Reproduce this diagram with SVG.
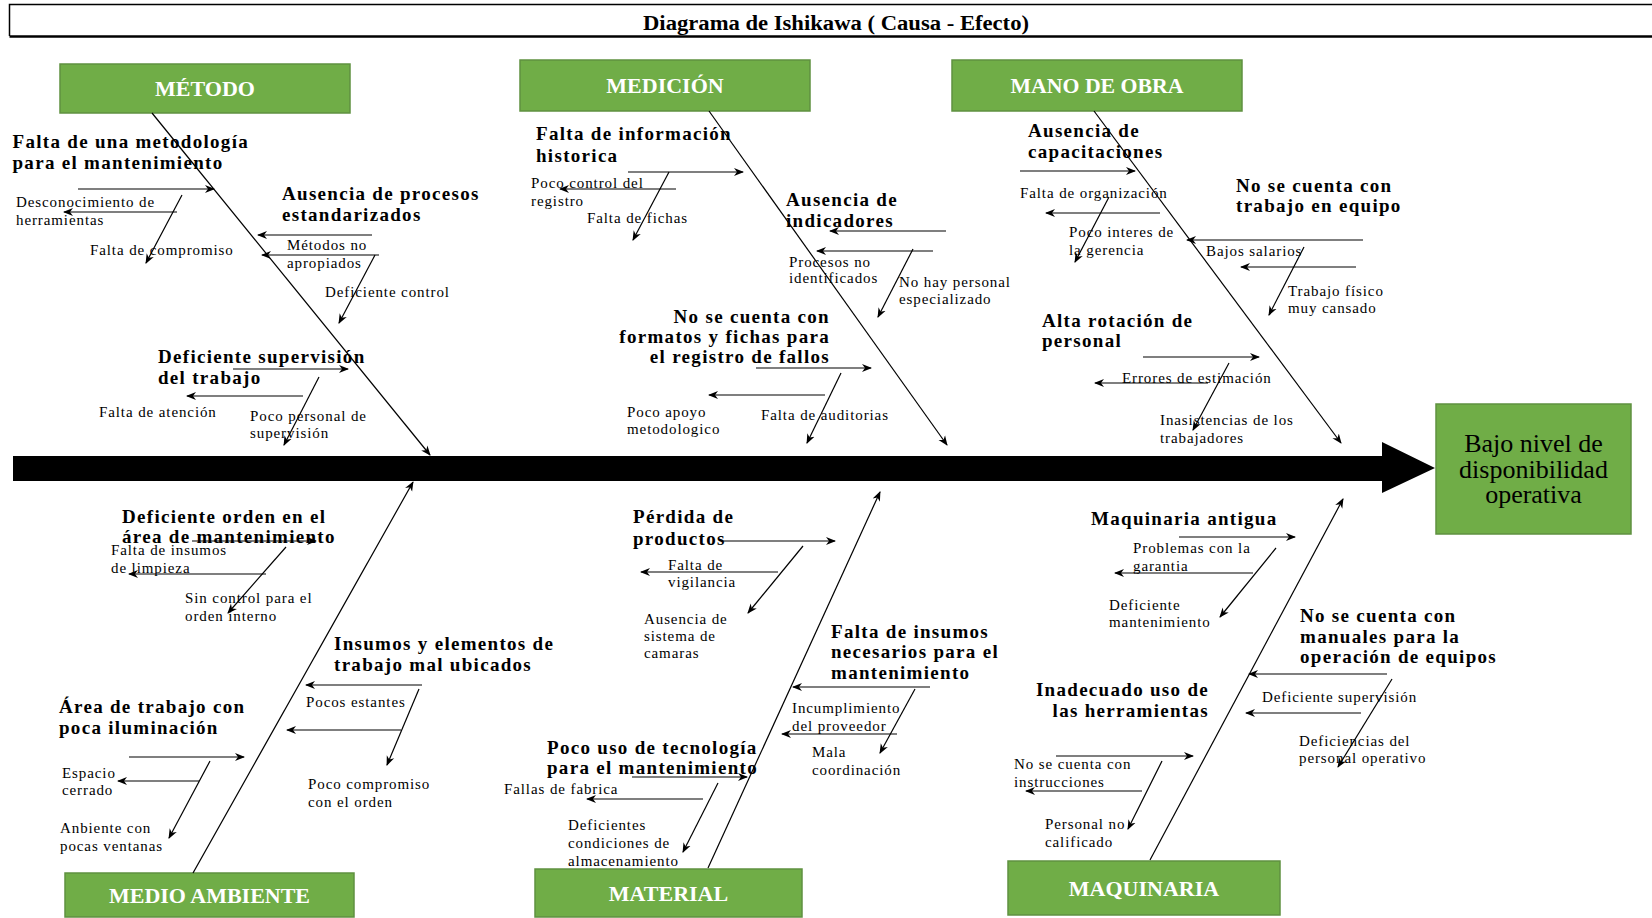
<svg xmlns="http://www.w3.org/2000/svg" width="1652" height="918" viewBox="0 0 1652 918">
<style>
text{font-family:"Liberation Serif","Times New Roman",serif;fill:#000}
.c{font-size:19px;font-weight:bold;letter-spacing:1.3px}
.s{font-size:15px;letter-spacing:0.9px}
.cat rect{fill:#70AD47;stroke:#5F9140;stroke-width:1.5}
.cat text{font-size:22px;font-weight:bold;fill:#fff;text-anchor:middle}
.ef{font-size:26px;text-anchor:middle}
.ln{stroke:#000;stroke-width:1.2;fill:none;marker-end:url(#ah)}
.bone{stroke:#000;stroke-width:1.2;fill:none;marker-end:url(#ah)}
</style>
<defs>
<marker id="ah" viewBox="0 0 10 10" refX="9" refY="5" markerWidth="10" markerHeight="10" markerUnits="userSpaceOnUse" orient="auto">
<path d="M0,1 L10,5 L0,9 L3,5 z" fill="#000"/>
</marker>
</defs>
<rect width="1652" height="918" fill="#fff"/>
<g id="title">
<path d="M1660,4.5 H9.5 V36" fill="none" stroke="#000" stroke-width="1.5"/>
<path d="M9.5,36.5 H1660" fill="none" stroke="#000" stroke-width="2.5"/>
<text x="643" y="30" font-size="20" font-weight="bold" textLength="386" lengthAdjust="spacingAndGlyphs">Diagrama de Ishikawa ( Causa - Efecto)</text>
</g>
<g id="spine">
<polygon points="13,456 1382,456 1382,442 1435,468 1382,493 1382,481 13,481" fill="#000"/>
</g>
<g id="effect">
<rect x="1436" y="404" width="195" height="130" fill="#70AD47" stroke="#5F9140" stroke-width="1.5"/>
<text class="ef" x="1533.5" y="452">Bajo nivel de</text>
<text class="ef" x="1533.5" y="478">disponibilidad</text>
<text class="ef" x="1533.5" y="503">operativa</text>
</g>
<g id="cat-metodo" class="cat"><rect x="60" y="64" width="290" height="49"/><text x="205" y="96">MÉTODO</text></g>
<g id="cat-medicion" class="cat"><rect x="520" y="60" width="290" height="51"/><text x="665" y="93">MEDICIÓN</text></g>
<g id="cat-mano-de-obra" class="cat"><rect x="952" y="60" width="290" height="51"/><text x="1097" y="93" textLength="173" lengthAdjust="spacingAndGlyphs">MANO DE OBRA</text></g>
<g id="cat-medio-ambiente" class="cat"><rect x="65" y="873" width="289" height="44"/><text x="209.5" y="903">MEDIO AMBIENTE</text></g>
<g id="cat-material" class="cat"><rect x="535" y="869" width="267" height="48"/><text x="668.5" y="901">MATERIAL</text></g>
<g id="cat-maquinaria" class="cat"><rect x="1008" y="861" width="272" height="54"/><text x="1144" y="896">MAQUINARIA</text></g>

<g id="causes-metodo">
<text class="c" x="12.5" y="148">Falta de una metodología</text>
<text class="c" x="12.5" y="169">para el mantenimiento</text>
<text class="s" x="16" y="207">Desconocimiento de</text>
<text class="s" x="16" y="225">herramientas</text>
<text class="s" x="90" y="255">Falta de compromiso</text>
<text class="c" x="282" y="200">Ausencia de procesos</text>
<text class="c" x="282" y="221">estandarizados</text>
<text class="s" x="287" y="250">Métodos no</text>
<text class="s" x="287" y="268">apropiados</text>
<text class="s" x="325" y="297">Deficiente control</text>
<text class="c" x="158" y="363">Deficiente supervisión</text>
<text class="c" x="158" y="384">del trabajo</text>
<text class="s" x="99" y="417">Falta de atención</text>
<text class="s" x="250" y="421">Poco personal de</text>
<text class="s" x="250" y="438">supervisión</text>
</g>
<g id="causes-medicion">
<text class="c" x="536" y="140">Falta de información</text>
<text class="c" x="536" y="162">historica</text>
<text class="s" x="531" y="188">Poco control del</text>
<text class="s" x="531" y="206">registro</text>
<text class="s" x="587" y="223">Falta de fichas</text>
<text class="c" x="786" y="206">Ausencia de</text>
<text class="c" x="786" y="227">indicadores</text>
<text class="s" x="789" y="267">Procesos no</text>
<text class="s" x="789" y="283">identificados</text>
<text class="s" x="899" y="287">No hay personal</text>
<text class="s" x="899" y="304">especializado</text>
<text class="c" x="830" y="323" text-anchor="end">No se cuenta con</text>
<text class="c" x="830" y="343" text-anchor="end">formatos y fichas para</text>
<text class="c" x="830" y="363" text-anchor="end">el registro de fallos</text>
<text class="s" x="627" y="417">Poco apoyo</text>
<text class="s" x="627" y="434">metodologico</text>
<text class="s" x="761" y="420">Falta de auditorias</text>
</g>
<g id="causes-mano-de-obra">
<text class="c" x="1028" y="137">Ausencia de</text>
<text class="c" x="1028" y="158">capacitaciones</text>
<text class="s" x="1020" y="198">Falta de organización</text>
<text class="s" x="1069" y="237">Poco interes de</text>
<text class="s" x="1069" y="255">la gerencia</text>
<text class="c" x="1236" y="192">No se cuenta con</text>
<text class="c" x="1236" y="212">trabajo en equipo</text>
<text class="s" x="1206" y="256">Bajos salarios</text>
<text class="s" x="1288" y="296">Trabajo físico</text>
<text class="s" x="1288" y="313">muy cansado</text>
<text class="c" x="1042" y="327">Alta rotación de</text>
<text class="c" x="1042" y="347">personal</text>
<text class="s" x="1122" y="383">Errores de estimación</text>
<text class="s" x="1160" y="425">Inasistencias de los</text>
<text class="s" x="1160" y="443">trabajadores</text>
</g>
<g id="causes-medio-ambiente">
<text class="c" x="122" y="523">Deficiente orden en el</text>
<text class="c" x="122" y="543">área de mantenimiento</text>
<text class="s" x="111" y="555">Falta de insumos</text>
<text class="s" x="111" y="573">de limpieza</text>
<text class="s" x="185" y="603">Sin control para el</text>
<text class="s" x="185" y="621">orden interno</text>
<text class="c" x="334" y="650">Insumos y elementos de</text>
<text class="c" x="334" y="671">trabajo mal ubicados</text>
<text class="s" x="306" y="707">Pocos estantes</text>
<text class="s" x="308" y="789">Poco compromiso</text>
<text class="s" x="308" y="807">con el orden</text>
<text class="c" x="59" y="713">Área de trabajo con</text>
<text class="c" x="59" y="734">poca iluminación</text>
<text class="s" x="62" y="778">Espacio</text>
<text class="s" x="62" y="795">cerrado</text>
<text class="s" x="60" y="833">Anbiente con</text>
<text class="s" x="60" y="851">pocas ventanas</text>
</g>
<g id="causes-material">
<text class="c" x="633" y="523">Pérdida de</text>
<text class="c" x="633" y="545">productos</text>
<text class="s" x="668" y="570">Falta de</text>
<text class="s" x="668" y="587">vigilancia</text>
<text class="s" x="644" y="624">Ausencia de</text>
<text class="s" x="644" y="641">sistema de</text>
<text class="s" x="644" y="658">camaras</text>
<text class="c" x="831" y="638">Falta de insumos</text>
<text class="c" x="831" y="658">necesarios para el</text>
<text class="c" x="831" y="679">mantenimiento</text>
<text class="s" x="792" y="713">Incumplimiento</text>
<text class="s" x="792" y="731">del proveedor</text>
<text class="s" x="812" y="757">Mala</text>
<text class="s" x="812" y="775">coordinación</text>
<text class="c" x="547" y="754">Poco uso de tecnología</text>
<text class="c" x="547" y="774">para el mantenimiento</text>
<text class="s" x="504" y="794">Fallas de fabrica</text>
<text class="s" x="568" y="830">Deficientes</text>
<text class="s" x="568" y="848">condiciones de</text>
<text class="s" x="568" y="866">almacenamiento</text>
</g>
<g id="causes-maquinaria">
<text class="c" x="1091" y="525">Maquinaria antigua</text>
<text class="s" x="1133" y="553">Problemas con la</text>
<text class="s" x="1133" y="571">garantia</text>
<text class="s" x="1109" y="610">Deficiente</text>
<text class="s" x="1109" y="627">mantenimiento</text>
<text class="c" x="1300" y="622">No se cuenta con</text>
<text class="c" x="1300" y="643">manuales para la</text>
<text class="c" x="1300" y="663">operación de equipos</text>
<text class="s" x="1262" y="702">Deficiente supervisión</text>
<text class="s" x="1299" y="746">Deficiencias del</text>
<text class="s" x="1299" y="763">personal operativo</text>
<text class="c" x="1209" y="696" text-anchor="end">Inadecuado uso de</text>
<text class="c" x="1209" y="717" text-anchor="end">las herramientas</text>
<text class="s" x="1014" y="769">No se cuenta con</text>
<text class="s" x="1014" y="787">instrucciones</text>
<text class="s" x="1045" y="829">Personal no</text>
<text class="s" x="1045" y="847">calificado</text>
</g>

<g id="connectors">
<path class="bone" d="M152,113 L430,455"/>
<path class="ln" d="M78,189 H214"/>
<path class="ln" d="M177,212 H64"/>
<path class="ln" d="M182,195 L146,263"/>
<path class="ln" d="M372,235 H258"/>
<path class="ln" d="M379,255 H262"/>
<path class="ln" d="M375,255 L339,323"/>
<path class="ln" d="M233,369 H348"/>
<path class="ln" d="M303,396 H187"/>
<path class="ln" d="M319,377 L284,445"/>

<path class="bone" d="M709,111 L947,445"/>
<path class="ln" d="M628,172 H743"/>
<path class="ln" d="M676,189 H560"/>
<path class="ln" d="M669,172 L633,240"/>
<path class="ln" d="M946,231 H830"/>
<path class="ln" d="M933,251 H817"/>
<path class="ln" d="M913,249 L878,317"/>
<path class="ln" d="M756,368 H871"/>
<path class="ln" d="M825,395 H709"/>
<path class="ln" d="M841,373 L807,443"/>

<path class="bone" d="M1094,111 L1341,443"/>
<path class="ln" d="M1020,171 H1135"/>
<path class="ln" d="M1160,213 H1046"/>
<path class="ln" d="M1109,197 L1075,262"/>
<path class="ln" d="M1363,240 H1187"/>
<path class="ln" d="M1356,267 H1241"/>
<path class="ln" d="M1304,247 L1269,315"/>
<path class="ln" d="M1143,357 H1259"/>
<path class="ln" d="M1208,383 H1095"/>
<path class="ln" d="M1229,363 L1193,430"/>

<path class="bone" d="M193,873 L413,482"/>
<path class="ln" d="M192,541 H316"/>
<path class="ln" d="M266,574 H129"/>
<path class="ln" d="M286,547 L228,613"/>
<path class="ln" d="M422,685 H306"/>
<path class="ln" d="M401,730 H287"/>
<path class="ln" d="M419,689 L387,765"/>
<path class="ln" d="M129,757 H244"/>
<path class="ln" d="M199,781 H118"/>
<path class="ln" d="M210,761 L169,838"/>

<path class="bone" d="M708,868 L880,492"/>
<path class="ln" d="M722,541 H835"/>
<path class="ln" d="M778,572 H641"/>
<path class="ln" d="M803,546 L748,613"/>
<path class="ln" d="M930,687 H793"/>
<path class="ln" d="M897,734 H782"/>
<path class="ln" d="M915,689 L880,753"/>
<path class="ln" d="M632,777 H747"/>
<path class="ln" d="M703,799 H587"/>
<path class="ln" d="M718,783 L683,852"/>

<path class="bone" d="M1150,860 L1343,499"/>
<path class="ln" d="M1179,537 H1295"/>
<path class="ln" d="M1253,573 H1115"/>
<path class="ln" d="M1276,548 L1220,617"/>
<path class="ln" d="M1387,674 H1249"/>
<path class="ln" d="M1361,713 H1246"/>
<path class="ln" d="M1392,679 L1338,767"/>
<path class="ln" d="M1056,756 H1193"/>
<path class="ln" d="M1142,791 H1026"/>
<path class="ln" d="M1162,761 L1128,829"/>
</g>
</svg>
